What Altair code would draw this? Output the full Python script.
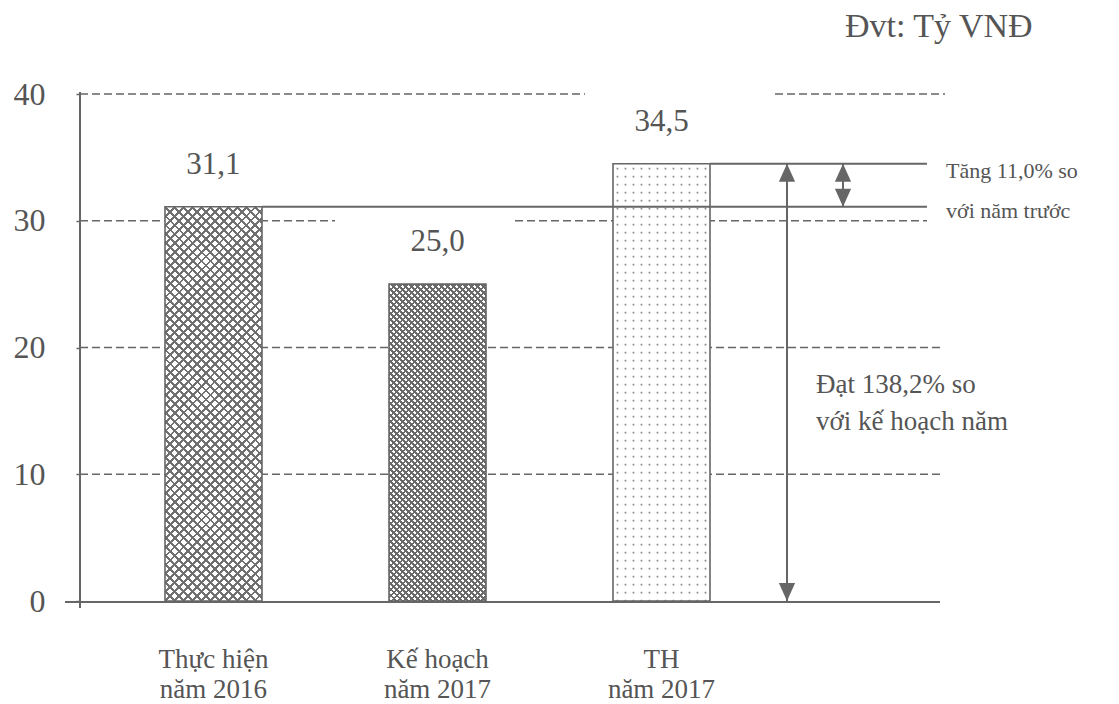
import altair as alt
import pandas as pd

# ---------------- data ----------------
categories = ["Thực hiện|năm 2016", "Kế hoạch|năm 2017", "TH|năm 2017"]
values = [31.1, 25.0, 34.5]
y_ticks = [0, 10, 20, 30, 40]
unit_label = "Đvt: Tỷ VNĐ"
note_growth = ["Tăng 11,0% so", "với năm trước"]
note_plan = ["Đạt 138,2% so", "với kế hoạch năm"]

df = pd.DataFrame({"cat": categories, "value": values})
grid_df = pd.DataFrame({"tick": y_ticks})
one = pd.DataFrame({"a": [0]})
arrows = pd.DataFrame({
    "name": ["plan", "growth"],
    "y0": [0.0, values[0]],
    "y1": [values[2], values[2]],
})

# ---------------- style ----------------
FONT = "Liberation Serif"
TXT = "#555555"
LINE = "#666666"
W, H = 868, 507
YMAX = 40
PX = H / YMAX
BAR_W = 97.0
LINE_END = 847

x_scale = alt.Scale(domain=categories, range=[85, 630], paddingInner=0.567, paddingOuter=0)
y_scale = alt.Scale(domain=[0, YMAX], nice=False, zero=True)

x_axis = alt.Axis(title=None, domain=False, ticks=False, labelAngle=0,
                  labelFont=FONT, labelFontSize=27, labelColor=TXT,
                  labelExpr="split(datum.label, '|')", labelLineHeight=30,
                  labelBaseline="alphabetic", labelPadding=66)
y_axis = alt.Axis(title=None, values=y_ticks, grid=False, domain=False,
                  ticks=True, tickSize=4, tickColor=LINE, tickWidth=1.5,
                  labelFont=FONT, labelFontSize=32, labelColor=TXT,
                  labelPadding=31, labelBaseline="middle")

X = alt.X("cat:N", scale=x_scale, sort=categories, axis=x_axis)
Y = alt.Y("value:Q", scale=y_scale, axis=y_axis)
YT = alt.Y("tick:Q", scale=y_scale, axis=y_axis)


def hatch(h, period, duty, color, anti=False):
    w = BAR_W
    k = (w + h) / (w * w + h * h)
    a, b = k * w, k * h
    if anti:
        x1, y1, x2, y2 = 0, 1, a, 1 - b
    else:
        x1, y1, x2, y2 = 0, 0, a, b
    n = max(1, int(round((w + h) / period)))
    clear = "rgba(255,255,255,0)"
    stops = []
    for i in range(n):
        o0 = round(i / n, 5)
        o1 = round((i + duty) / n, 5)
        o2 = round((i + 1) / n, 5)
        stops += [(color, o0), (color, o1), (clear, o1), (clear, o2)]
    return alt.Gradient(gradient="linear", x1=x1, y1=y1, x2=x2, y2=y2,
                        stops=[alt.GradientStop(color=c, offset=o) for c, o in stops])


layers = []

# dashed gridlines (interrupted like the original)
grid_segments = {10: [(0, 860)], 20: [(0, 860)], 30: [(0, 255), (435, LINE_END)], 40: [(0, 505), (695, 865)]}
for t, segs in grid_segments.items():
    for s0, s1 in segs:
        layers.append(
            alt.Chart(grid_df).transform_filter(alt.datum.tick == t)
            .mark_rule(color=LINE, strokeWidth=1.6, strokeDash=[8, 4])
            .encode(y=YT, x=alt.value(s0), x2=alt.value(s1))
        )

# axes lines
layers.append(alt.Chart(one).mark_rule(color=LINE, strokeWidth=2)
              .encode(x=alt.value(0), y=alt.value(-2), y2=alt.value(H + 7)))
layers.append(alt.Chart(one).mark_rule(color=LINE, strokeWidth=2)
              .encode(x=alt.value(-15), x2=alt.value(860), y=alt.value(H + 1)))

# white bar bases
layers.append(alt.Chart(df).mark_bar(fill="white", strokeWidth=0).encode(x=X, y=Y))

# hatch patterns for bars 1 and 2
pattern_specs = {categories[0]: (9, 0.32, "#707070"), categories[1]: (6, 0.42, "#6a6a6a")}
for cat, val in zip(categories, values):
    if cat not in pattern_specs:
        continue
    period, duty, col = pattern_specs[cat]
    h = val * PX
    for anti in (False, True):
        layers.append(
            alt.Chart(df).transform_filter(alt.datum.cat == cat)
            .mark_bar(fill=hatch(h, period, duty, col, anti), strokeWidth=0)
            .encode(x=X, y=Y)
        )

# dotted texture for bar 3 (columns of dots along the bar)
for k in range(12):
    off = -44 + 8 * k
    layers.append(
        alt.Chart(df).transform_filter(alt.datum.cat == categories[2])
        .transform_calculate(base="0")
        .mark_rule(color="#8a8a8a", strokeWidth=1.8, strokeDash=[1.8, 6.2],
                   strokeDashOffset=-4, xOffset=off)
        .encode(x=X, y=Y, y2=alt.Y2("base:Q"))
    )

# bar outlines
layers.append(alt.Chart(df).mark_bar(fillOpacity=0, stroke=LINE, strokeWidth=1.6)
              .encode(x=X, y=Y))

# solid reference lines
for cat in (categories[0], categories[2]):
    layers.append(
        alt.Chart(df).transform_filter(alt.datum.cat == cat)
        .mark_rule(color=LINE, strokeWidth=2)
        .encode(x=alt.X("cat:N", scale=x_scale, sort=categories, axis=x_axis, bandPosition=1),
                x2=alt.value(LINE_END), y=Y)
    )

# arrows
arrow_x = {"plan": 707, "growth": 763}
UP = "M0,0L-0.45,1L0.45,1Z"
DOWN = "M0,0L-0.45,-1L0.45,-1Z"
Y0 = alt.Y("y0:Q", scale=y_scale, axis=y_axis)
Y1 = alt.Y("y1:Q", scale=y_scale, axis=y_axis)
for name, xv in arrow_x.items():
    a = alt.Chart(arrows).transform_filter(alt.datum.name == name)
    layers.append(a.mark_rule(color=LINE, strokeWidth=2)
                  .encode(x=alt.value(xv), y=Y1, y2=alt.Y2("y0:Q")))
    layers.append(a.mark_point(shape=UP, size=1300, filled=True, color=LINE, opacity=1)
                  .encode(x=alt.value(xv), y=Y1))
    layers.append(a.mark_point(shape=DOWN, size=1300, filled=True, color=LINE, opacity=1)
                  .encode(x=alt.value(xv), y=Y0))

# value labels
layers.append(
    alt.Chart(df).transform_calculate(lbl="replace(format(datum.value, '.1f'), '.', ',')")
    .mark_text(font=FONT, fontSize=31, color=TXT, baseline="alphabetic", dy=-33)
    .encode(x=X, y=Y, text="lbl:N")
)

# annotations
layers.append(alt.Chart(one).mark_text(text=note_growth, font=FONT, fontSize=22, color=TXT,
                                       align="left", baseline="alphabetic", lineHeight=40)
              .encode(x=alt.value(866), y=alt.value(84)))
layers.append(alt.Chart(one).mark_text(text=note_plan, font=FONT, fontSize=27, color=TXT,
                                       align="left", baseline="alphabetic", lineHeight=37)
              .encode(x=alt.value(736), y=alt.value(299)))
layers.append(alt.Chart(one).mark_text(text=unit_label, font=FONT, fontSize=34, color=TXT,
                                       align="left", baseline="alphabetic")
              .encode(x=alt.value(765), y=alt.value(-57)))

chart = (
    alt.layer(*layers)
    .properties(width=W, height=H, autosize="none",
                padding={"left": 80, "top": 94, "right": 171, "bottom": 103},
                background="white")
    .configure_view(stroke=None)
)

chart.save("out.html", embed_options={"renderer": "svg", "actions": False})
